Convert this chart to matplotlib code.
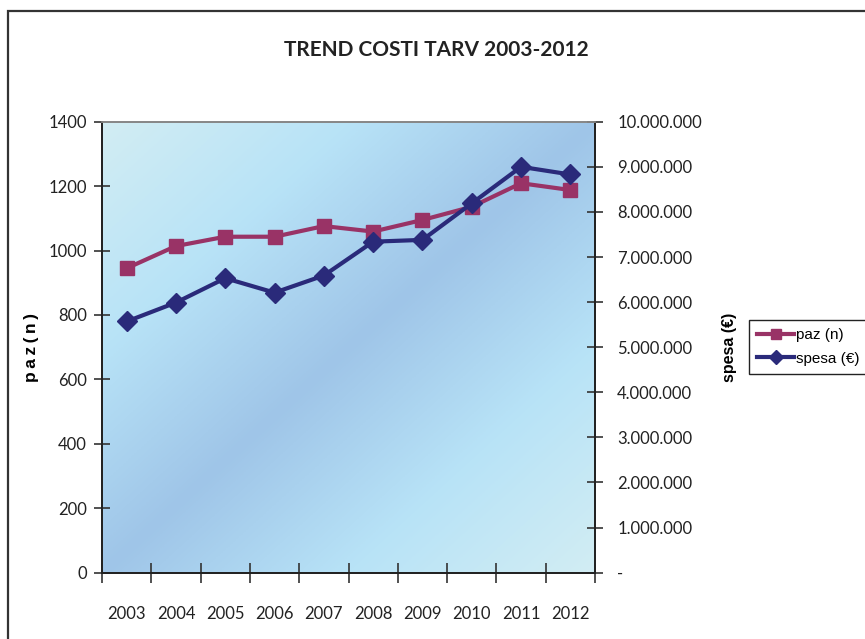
import matplotlib
matplotlib.use("Agg")
import matplotlib.pyplot as plt
import numpy as np
from matplotlib.colors import LinearSegmentedColormap
from matplotlib.patches import Rectangle
from matplotlib.ticker import FuncFormatter, FixedLocator

years = ["2003", "2004", "2005", "2006", "2007", "2008", "2009", "2010", "2011", "2012"]
paz = [945, 1014, 1043, 1043, 1076, 1059, 1095, 1136, 1209, 1188]
spesa = [5570000, 5990000, 6530000, 6210000, 6590000, 7340000, 7380000, 8190000, 9000000, 8830000]

PAZ_COLOR = "#993366"
SPESA_COLOR = "#2a2a7a"
TICK_FONT = ["Lato", "DejaVu Sans"]

fig = plt.figure(figsize=(8.65, 6.39), dpi=100)
ax = fig.add_axes([0.1179, 0.1038, 0.57, 0.7057])
ax2 = ax.twinx()

# diagonal background: light at two corners, darker blue along the middle
bg = LinearSegmentedColormap.from_list(
    "bg", ["#d2edf3", "#b8e3f7", "#9fc5e8", "#b8e3f7", "#d2edf3"])
gx, gy = np.meshgrid(np.linspace(0, 1, 300), np.linspace(1, 0, 300))
grad = (gx + (1 - gy)) / 2
ax.imshow(grad, cmap=bg, extent=[0, 1, 0, 1], transform=ax.transAxes,
          aspect="auto", zorder=0, interpolation="bilinear")
ax.patch.set_visible(False)

x = np.arange(len(years))
ax.plot(x, paz, color=PAZ_COLOR, lw=3, marker="s", ms=10, label="paz (n)", zorder=3)
ax2.plot(x, spesa, color=SPESA_COLOR, lw=3, marker="D", ms=10.5, label="spesa (€)", zorder=3)

ax.set_xlim(-0.5, len(years) - 0.5)
ax.set_ylim(0, 1400)
ax2.set_ylim(0, 10000000)
ax.set_yticks(np.arange(0, 1401, 200))
ax2.set_yticks(np.arange(0, 10000001, 1000000))

def euro_fmt(v, pos):
    if v == 0:
        return "-"
    return f"{int(v):,}".replace(",", ".")

ax2.yaxis.set_major_formatter(FuncFormatter(euro_fmt))

# category labels in the middle, tick marks on the boundaries
ax.set_xticks(x)
ax.set_xticklabels(years)
ax.xaxis.set_minor_locator(FixedLocator(np.arange(-0.5, len(years), 1.0)))
ax.tick_params(axis="x", which="major", length=0, pad=24)
ax.tick_params(axis="x", which="minor", direction="inout", length=14, width=1.2, color="#333333")
ax.tick_params(axis="y", direction="inout", length=12, width=1.2, color="#333333", pad=5)
ax2.tick_params(axis="y", direction="inout", length=12, width=1.2, color="#333333", pad=10)

for lab in ax.get_xticklabels() + ax.get_yticklabels() + ax2.get_yticklabels():
    lab.set_family(TICK_FONT)
    lab.set_fontsize(12)
    lab.set_color("#222222")

for a in (ax, ax2):
    a.spines["top"].set_color("#888888")
    for side in ("left", "bottom", "right"):
        a.spines[side].set_color("#222222")
    for s in a.spines.values():
        s.set_linewidth(1.3)

ax.set_ylabel("p\u2009a\u2009z\u2009(\u2009n\u2009)", family=["Liberation Sans", "DejaVu Sans"],
              fontweight="bold", fontsize=12.5)
ax.yaxis.set_label_coords(-0.128, 0.5)
ax2.set_ylabel("spesa (€)", family="Liberation Sans", fontweight="bold", fontsize=11.5,
               rotation=90)
ax2.yaxis.set_label_coords(1.258, 0.5)

fig.text(0.505, 0.922, "TREND COSTI TARV 2003-2012", ha="center", va="center",
         family=["Lato", "DejaVu Sans"], fontweight="bold",
         fontsize=15, color="#222222")

h1, l1 = ax.get_legend_handles_labels()
h2, l2 = ax2.get_legend_handles_labels()
leg = fig.legend(h1 + h2, l1 + l2, loc="center left", bbox_to_anchor=(0.866, 0.457),
                 frameon=True, fancybox=False, edgecolor="#222222", framealpha=1,
                 prop={"family": "Liberation Sans", "size": 11},
                 handlelength=2.4, handletextpad=0.1, borderpad=0.55,
                 labelspacing=0.6, markerscale=0.7, borderaxespad=0)
leg.get_frame().set_linewidth(1.0)

# outer chart border, running off the right and bottom edges
fig.patches.append(Rectangle((0.0093, -0.05), 1.1, 1.0328,
                             transform=fig.transFigure, fill=False,
                             edgecolor="#333333", lw=1.6, clip_on=False))

fig.savefig("out.png", dpi=100)
